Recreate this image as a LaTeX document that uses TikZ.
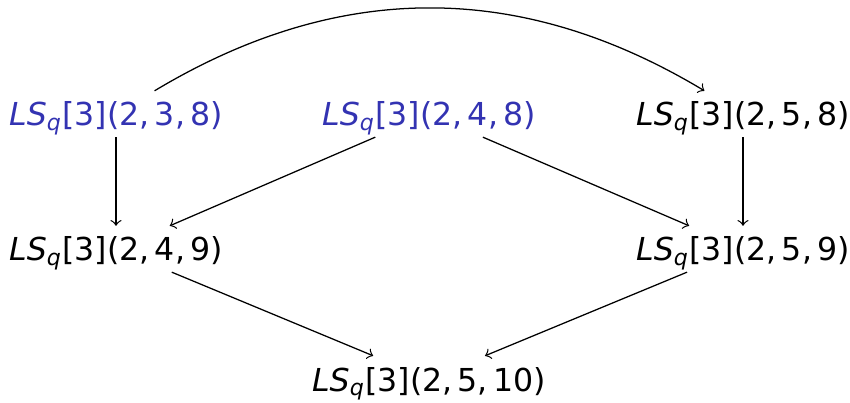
\documentclass[tikz,border=0pt]{standalone}
\usepackage{fontspec}
\setmainfont{DejaVu Sans}
\definecolor{lsblue}{RGB}{51,51,178}
\newcommand{\lsq}[1]{{\itshape LS}\textsubscript{\itshape q}[3](#1)}
\begin{document}
\begin{tikzpicture}[x=0.3164pt,y=0.3164pt,
  lsnode/.style={font=\fontsize{10}{12}\selectfont, text depth=0pt, anchor=base},
  hl/.style={text=lsblue},
  arr/.style={->}]
\useasboundingbox (0,0) rectangle (850,402);
\node[lsnode,hl] (A) at (116,276) {\lsq{2,\,3,\,8}};
\node[lsnode,hl] (B) at (429,276) {\lsq{2,\,4,\,8}};
\node[lsnode] (C) at (743,276) {\lsq{2,\,5,\,8}};
\node[lsnode] (D) at (116,141) {\lsq{2,\,4,\,9}};
\node[lsnode] (E) at (743,141) {\lsq{2,\,5,\,9}};
\node[lsnode] (F) at (429,11) {\lsq{2,\,5,\,10}};
\draw[arr] (A) to[bend left=31] (C);
\draw[arr] (A) -- (D);
\draw[arr] (C) -- (E);
\draw[arr] (B) -- (D);
\draw[arr] (B) -- (E);
\draw[arr] (D) -- (F);
\draw[arr] (E) -- (F);
\end{tikzpicture}
\end{document}
